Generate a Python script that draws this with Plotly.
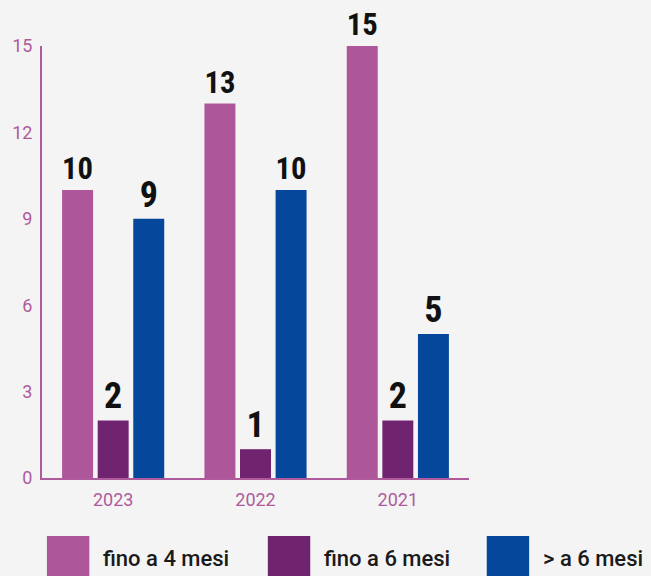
import plotly.graph_objects as go

years = ["2023", "2022", "2021"]
fino_4 = [10, 13, 15]
fino_6 = [2, 1, 2]
oltre_6 = [9, 10, 5]

series_names = ["fino a 4 mesi", "fino a 6 mesi", "> a 6 mesi"]
colors = ["#ad5699", "#702470", "#04479b"]
axis_color = "#b05a9e"
bg = "#f4f4f4"

W, H = 651, 576
L, R, T, B = 36, 182, 46, 98
label_font = "Roboto Condensed, Liberation Sans Narrow, Roboto"

fig = go.Figure()
for name, vals, col in zip(series_names, [fino_4, fino_6, oltre_6], colors):
    fig.add_trace(go.Bar(
        name=name, x=years, y=vals, marker_color=col, marker_line_width=0,
        text=vals, textposition="outside", cliponaxis=False,
        textfont=dict(family=label_font, size=36, color="#111111", weight="bold"),
        showlegend=False,
    ))

# legend drawn by hand: big squares + text, in pixel positions
def px_x(x):
    return (x - L) / (W - L - R)

def px_y(y):
    return (H - B - y) / (H - T - B)

legend_x = [41, 265, 487]
for name, col, x0 in zip(series_names, colors, legend_x):
    fig.add_shape(type="rect", xref="paper", yref="paper",
                  x0=px_x(x0), x1=px_x(x0 + 43), y0=px_y(578), y1=px_y(536),
                  fillcolor=col, line_width=0)
    fig.add_annotation(xref="paper", yref="paper", x=px_x(x0 + 58), y=px_y(558),
                       text=name, showarrow=False, xanchor="left", yanchor="middle",
                       xshift=-3,
                       font=dict(family="Roboto", size=22, color="#1a1a1a", weight=500))

fig.update_layout(
    width=W, height=H,
    margin=dict(l=L, r=R, t=T, b=B),
    paper_bgcolor=bg, plot_bgcolor=bg,
    barmode="group", bargap=0.25, bargroupgap=0.13,
    font=dict(family="Roboto", color=axis_color),
)
fig.update_xaxes(showline=True, linecolor=axis_color, linewidth=2, showgrid=False,
                 ticks="", tickfont=dict(size=18, color=axis_color), ticklabelstandoff=4)
fig.update_yaxes(range=[0, 15], tickvals=[0, 3, 6, 9, 12, 15], showline=True,
                 linecolor=axis_color, linewidth=2, showgrid=False, zeroline=False,
                 ticks="", tickfont=dict(size=18, color=axis_color), ticklabelstandoff=4)

fig.write_html("out.html", config={"displayModeBar": False},
               post_script="document.body.style.margin='0';document.body.style.background='%s';" % bg)
